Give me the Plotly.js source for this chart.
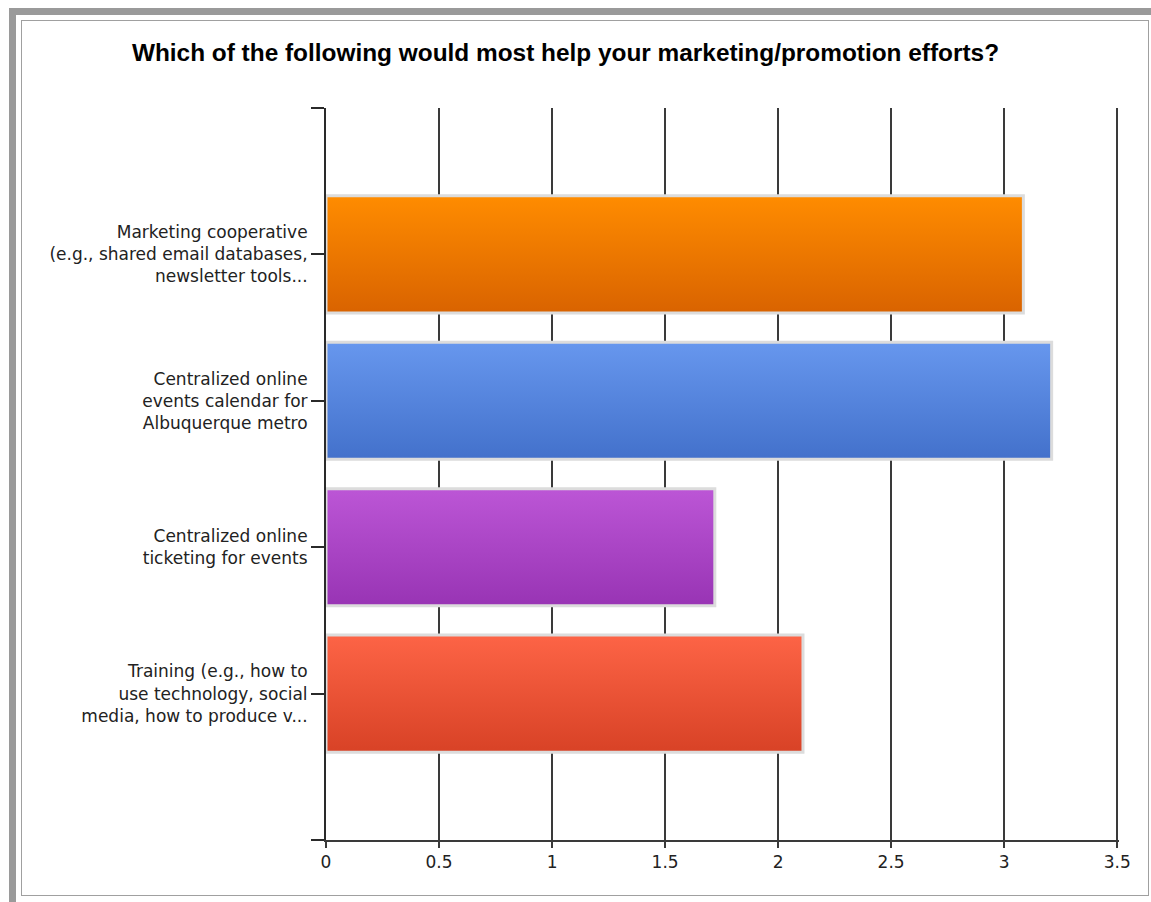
<!DOCTYPE html>
<html>
<head>
<meta charset="utf-8">
<script src="https://cdn.plot.ly/plotly-3.0.1.min.js"></script>
<style>
  html, body { margin: 0; padding: 0; background: #ffffff; }
  #wrap { position: relative; width: 1151px; height: 902px; overflow: hidden; }
  .frame { position: absolute; }
  #chart { position: absolute; left: 0; top: 0; width: 1151px; height: 902px; }
</style>
</head>
<body>
<div id="wrap">
  <div class="frame" style="left:9px;top:8px;width:1142px;height:7px;background:#9a9a9a;"></div>
  <div class="frame" style="left:9px;top:8px;width:7px;height:894px;background:#9a9a9a;"></div>
  <div class="frame" style="left:21px;top:20px;width:1126px;height:874px;border:1px solid #a0a0a0;"></div>
  <div id="chart"></div>
</div>
<script>
// ---- data ----
const categories = [
  "Marketing cooperative<br>(e.g., shared email databases,<br>newsletter tools...",
  "Centralized online<br>events calendar for<br>Albuquerque metro",
  "Centralized online<br>ticketing for events",
  "Training (e.g., how to<br>use technology, social<br>media, how to produce v..."
];
const values = [3.085, 3.21, 1.72, 2.11];
const xTickValues = [0, 0.5, 1, 1.5, 2, 2.5, 3, 3.5];
const xTickLabels = ["0", "0.5", "1", "1.5", "2", "2.5", "3", "3.5"];
const titleText = "Which of the following would most help your marketing/promotion efforts?";

// ---- styles ----
const topColors = ["#ff8c00", "#6797ee", "#bc56d6", "#fd6446"];
const bottomColors = ["#d96300", "#4371cb", "#9834b4", "#d84226"];
const midColors = ["#ec7800", "#5584dc", "#aa45c5", "#ea5336"];

const positions = categories.map((c, i) => i);

const trace = {
  type: "bar",
  orientation: "h",
  y: positions,
  x: values,
  width: 0.8,
  marker: {
    color: midColors,
    line: { color: "#dcdcdc", width: 3 }
  },
  hoverinfo: "none"
};

const xMax = 3.508;
const pxPerUnit = 226;
const leftMargin = 326;

const layout = {
  width: 1151,
  height: 902,
  paper_bgcolor: "rgba(0,0,0,0)",
  plot_bgcolor: "rgba(0,0,0,0)",
  margin: { l: leftMargin, r: 1151 - leftMargin - xMax * pxPerUnit, t: 108, b: 62 },
  showlegend: false,
  title: {
    text: "<b>" + titleText + "</b>",
    font: { family: "Liberation Sans, Arial, sans-serif", size: 24.4, color: "#000000" },
    xref: "container", yref: "container",
    x: 565.5 / 1151, xanchor: "center",
    y: 1 - 52 / 902, yanchor: "middle"
  },
  xaxis: {
    range: [0, xMax],
    tickvals: xTickValues,
    ticktext: xTickLabels,
    showgrid: true,
    gridcolor: "#3a3a3a",
    gridwidth: 2,
    zeroline: false,
    showline: true,
    linecolor: "#3a3a3a",
    linewidth: 2,
    ticks: "outside",
    ticklen: 6,
    tickwidth: 2,
    tickcolor: "#3a3a3a",
    tickfont: { family: "DejaVu Sans, sans-serif", size: 17, color: "#222222" },
    fixedrange: true
  },
  yaxis: {
    range: [4, -1],
    tickvals: [-1].concat(positions).concat([4]),
    ticktext: [""].concat(categories).concat([""]),
    showgrid: false,
    zeroline: false,
    showline: true,
    linecolor: "#2a2a2a",
    linewidth: 2,
    ticks: "outside",
    ticklen: 13,
    tickwidth: 2,
    tickcolor: "#2a2a2a",
    ticklabelstandoff: 0,
    tickfont: { family: "DejaVu Sans, sans-serif", size: 17, color: "#222222" },
    fixedrange: true
  }
};

Plotly.newPlot("chart", [trace], layout, { staticPlot: true, displayModeBar: false }).then(function (gd) {
  const svg = gd.querySelector(".main-svg");
  let defs = svg.querySelector("defs");
  const NS = "http://www.w3.org/2000/svg";
  if (!defs) { defs = document.createElementNS(NS, "defs"); svg.insertBefore(defs, svg.firstChild); }
  topColors.forEach(function (tc, i) {
    const g = document.createElementNS(NS, "linearGradient");
    g.setAttribute("id", "barGrad" + i);
    g.setAttribute("x1", "0"); g.setAttribute("y1", "0");
    g.setAttribute("x2", "0"); g.setAttribute("y2", "1");
    const s1 = document.createElementNS(NS, "stop");
    s1.setAttribute("offset", "0"); s1.setAttribute("stop-color", tc);
    const s2 = document.createElementNS(NS, "stop");
    s2.setAttribute("offset", "1"); s2.setAttribute("stop-color", bottomColors[i]);
    g.appendChild(s1); g.appendChild(s2);
    defs.appendChild(g);
  });
  const paths = gd.querySelectorAll(".barlayer .point path");
  paths.forEach(function (p, i) {
    p.style.fill = "url(#barGrad" + i + ")";
  });
});
</script>
</body>
</html>
